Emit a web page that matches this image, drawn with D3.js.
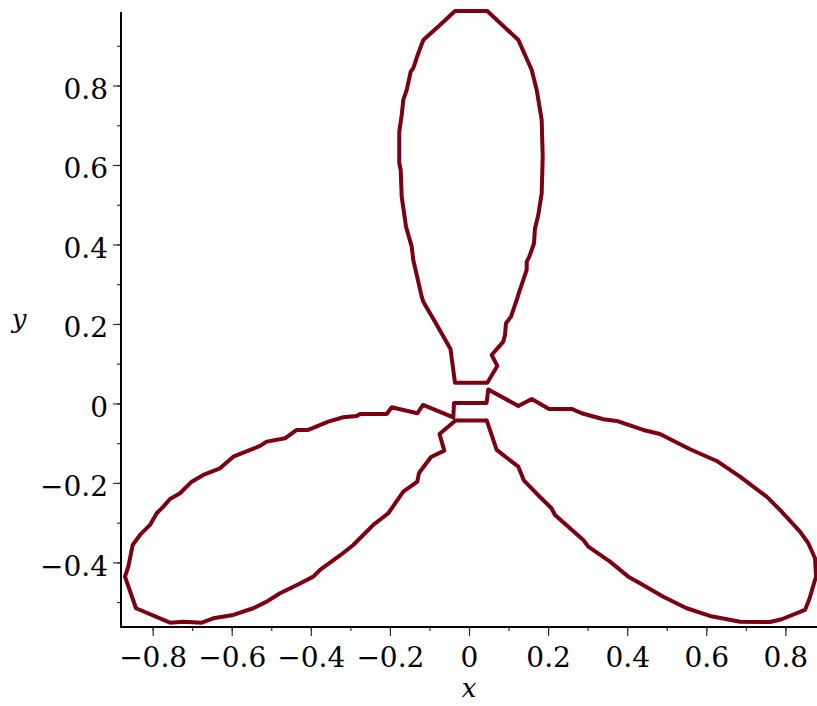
<!DOCTYPE html>
<html>
<head>
<meta charset="utf-8">
<script src="https://cdn.jsdelivr.net/npm/d3@7"></script>
<style>
  html, body { margin: 0; padding: 0; background: #fff; }
  svg { display: block; }
</style>
</head>
<body>
<svg id="chart" width="817" height="706"></svg>
<script>
// Trifolium traced as an implicit curve: two closed polylines.
// Upper leaf (x values, then y values).
const upperLeafX = [-0.0354, -0.0468, -0.0860, -0.1156, -0.1196, -0.1409, -0.1449, -0.1593, -0.1702, -0.1727,
  -0.1763, -0.1763, -0.1702, -0.1661, -0.1575, -0.1474, -0.1409, -0.1282, -0.1156, -0.0733,
  -0.0354, 0.0463, 0.1247, 0.1586, 0.1712, 0.1838, 0.1864, 0.1838, 0.1752, 0.1669,
  0.1644, 0.1525, 0.1459, 0.1459, 0.1373, 0.1272, 0.1221, 0.1120, 0.1062, 0.0936,
  0.0910, 0.0867, 0.0574, 0.0716, 0.0463];
const upperLeafY = [0.0523, 0.1371, 0.2058, 0.2562, 0.2687, 0.3611, 0.3946, 0.4449, 0.5204, 0.5876,
  0.6044, 0.6839, 0.7260, 0.7637, 0.7889, 0.8349, 0.8435, 0.8812, 0.9147, 0.9524,
  0.9877, 0.9877, 0.9147, 0.8392, 0.7889, 0.7134, 0.6210, 0.5289, 0.4743, 0.4409,
  0.4031, 0.3694, 0.3568, 0.3359, 0.3108, 0.2813, 0.2647, 0.2353, 0.2184, 0.2018,
  0.1724, 0.1555, 0.1220, 0.0944, 0.0523];

// Lower two leaves, joined near the origin into one closed polyline.
const lowerLeavesX = [-0.0379, 0.0443, 0.0488, 0.1247, 0.1586, 0.2023, 0.2597, 0.2850, 0.3396, 0.3735,
  0.4408, 0.4830, 0.5589, 0.6264, 0.6853, 0.7528, 0.7864, 0.8370, 0.8580, 0.8750,
  0.8775, 0.8605, 0.8497, 0.7907, 0.7612, 0.6853, 0.6094, 0.5505, 0.4913, 0.4324,
  0.4028, 0.3566, 0.3017, 0.2890, 0.2175, 0.2086, 0.1795, 0.1391, 0.1247, 0.0700,
  0.0448, -0.0341, -0.0746, -0.0625, -0.0961, -0.1264, -0.1307, -0.1661, -0.2041, -0.2420,
  -0.2926, -0.3262, -0.3768, -0.3937, -0.4400, -0.4779, -0.5116, -0.5455, -0.5960, -0.6466,
  -0.6759, -0.7225, -0.7561, -0.8421, -0.8699, -0.8615, -0.8504, -0.8320, -0.8067, -0.7897,
  -0.7730, -0.7561, -0.7308, -0.7012, -0.6719, -0.6297, -0.5960, -0.5581, -0.5285, -0.5116,
  -0.4653, -0.4357, -0.4064, -0.3558, -0.3179, -0.2840, -0.2756, -0.2081, -0.1955, -0.1307,
  -0.1163, -0.0397];
const lowerLeavesY = [0.0013, 0.0013, 0.0352, -0.0063, 0.0113, -0.0138, -0.0138, -0.0247, -0.0398, -0.0440,
  -0.0667, -0.0767, -0.1152, -0.1447, -0.1842, -0.2345, -0.2680, -0.3226, -0.3518, -0.3895,
  -0.4358, -0.4927, -0.5196, -0.5430, -0.5498, -0.5491, -0.5347, -0.5153, -0.4862, -0.4524,
  -0.4358, -0.3981, -0.3603, -0.3435, -0.2806, -0.2637, -0.2353, -0.1943, -0.1590, -0.1170,
  -0.0428, -0.0428, -0.0767, -0.1188, -0.1346, -0.1749, -0.1968, -0.2219, -0.2763, -0.3057,
  -0.3561, -0.3825, -0.4190, -0.4358, -0.4592, -0.4776, -0.4987, -0.5153, -0.5322, -0.5405,
  -0.5516, -0.5491, -0.5516, -0.5153, -0.4358, -0.4107, -0.3561, -0.3309, -0.3057, -0.2763,
  -0.2597, -0.2403, -0.2260, -0.1968, -0.1799, -0.1631, -0.1339, -0.1188, -0.1069, -0.0961,
  -0.0876, -0.0667, -0.0667, -0.0458, -0.0347, -0.0315, -0.0264, -0.0264, -0.0096, -0.0247,
  -0.0038, -0.0352];

const xTickValues = [-0.8, -0.6, -0.4, -0.2, 0, 0.2, 0.4, 0.6, 0.8];
const yTickValues = [-0.4, -0.2, 0, 0.2, 0.4, 0.6, 0.8];
const xMinorTicks = [-0.8, -0.7, -0.6, -0.5, -0.4, -0.3, -0.2, -0.1, 0, 0.1, 0.2, 0.3, 0.4, 0.5, 0.6, 0.7, 0.8];
const yMinorTicks = [-0.5, -0.4, -0.3, -0.2, -0.1, 0, 0.1, 0.2, 0.3, 0.4, 0.5, 0.6, 0.7, 0.8, 0.9];

const svg = d3.select("#chart");
const plotLeft = 121, plotRight = 817, plotTop = 12, plotBottom = 627;

const x = d3.scaleLinear().domain([-0.88, 0.88]).range([plotLeft, plotRight]);
const y = d3.scaleLinear().domain([-0.5625, 0.985]).range([plotBottom, plotTop]);

const fmt = v => (v === 0 ? "0" : (v < 0 ? "\u2212" : "") + Math.abs(v).toFixed(1));
const curveColor = "#7a0012";
const labelFont = "'DejaVu Serif', serif";

// Curve pieces
const line = d3.line().x(d => x(d[0])).y(d => y(d[1])).curve(d3.curveLinearClosed);
const pieces = [
  d3.zip(upperLeafX, upperLeafY),
  d3.zip(lowerLeavesX, lowerLeavesY)
];
svg.append("g").selectAll("path").data(pieces).join("path")
  .attr("d", line)
  .attr("fill", "none")
  .attr("stroke", curveColor)
  .attr("stroke-width", 4)
  .attr("stroke-linejoin", "round");

// Minor ticks
const xMinorAxis = d3.axisBottom(x).tickValues(xMinorTicks).tickSize(4).tickFormat("");
const yMinorAxis = d3.axisLeft(y).tickValues(yMinorTicks).tickSize(4).tickFormat("");
// Major ticks with labels
const xAxis = d3.axisBottom(x).tickValues(xTickValues).tickSize(9).tickSizeOuter(0).tickFormat(fmt);
const yAxis = d3.axisLeft(y).tickValues(yTickValues).tickSize(8).tickSizeOuter(0).tickFormat(fmt).tickPadding(5);

const gx = svg.append("g").attr("transform", `translate(0,${plotBottom})`);
gx.append("g").call(xMinorAxis).call(g => g.select(".domain").remove());
const gxMaj = gx.append("g").call(xAxis);
gxMaj.select(".domain").remove();
gxMaj.selectAll("text")
  .attr("font-family", labelFont)
  .attr("font-size", 28)
  .attr("y", 40)
  .attr("dy", "0")
  .attr("fill", "#000");

const gy = svg.append("g").attr("transform", `translate(${plotLeft},0)`);
gy.append("g").call(yMinorAxis).call(g => g.select(".domain").remove());
const gyMaj = gy.append("g").call(yAxis);
gyMaj.select(".domain").remove();
gyMaj.selectAll("text")
  .attr("font-family", labelFont)
  .attr("font-size", 28)
  .attr("dy", "0.46em")
  .attr("fill", "#000");

svg.selectAll(".tick line").attr("stroke", "#333").attr("stroke-width", 1.2);

// Axis lines
svg.append("line").attr("x1", plotLeft).attr("x2", plotLeft).attr("y1", plotTop).attr("y2", plotBottom + 1)
  .attr("stroke", "#000").attr("stroke-width", 2);
svg.append("line").attr("x1", plotLeft - 1).attr("x2", plotRight).attr("y1", plotBottom).attr("y2", plotBottom)
  .attr("stroke", "#000").attr("stroke-width", 2);

// Axis titles
svg.append("text").attr("x", x(0)).attr("y", 697).attr("text-anchor", "middle")
  .attr("font-family", labelFont).attr("font-style", "italic")
  .attr("font-size", 26).text("x");
svg.append("text").attr("x", 19).attr("y", 328).attr("text-anchor", "middle")
  .attr("font-family", labelFont).attr("font-style", "italic")
  .attr("font-size", 26).text("y");
</script>
</body>
</html>
